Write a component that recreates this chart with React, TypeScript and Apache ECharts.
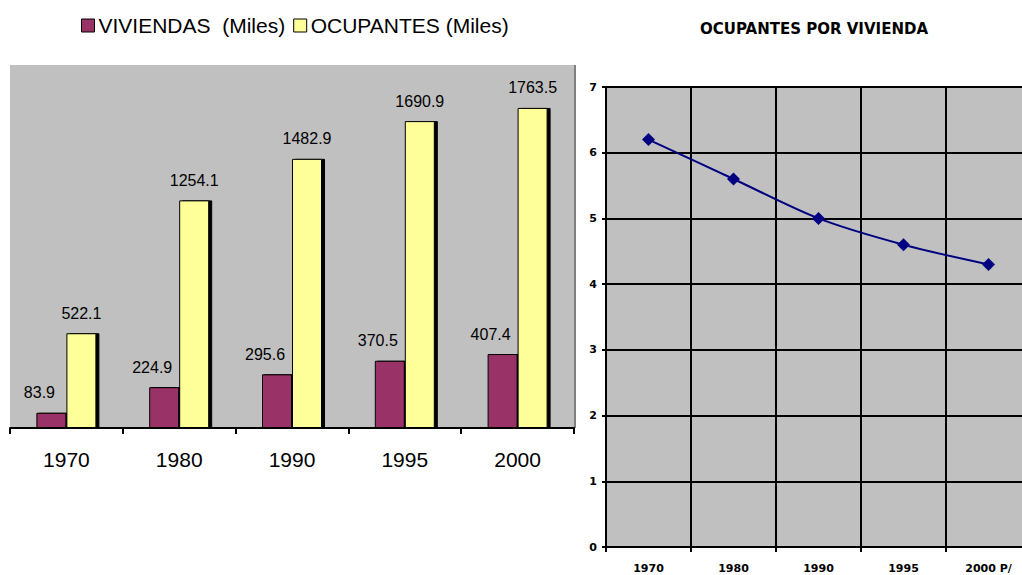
import React, { useEffect, useRef } from "react";
import * as echarts from "echarts";

const years = ["1970", "1980", "1990", "1995", "2000"];
const yearsRight = ["1970", "1980", "1990", "1995", "2000 P/"];
const viviendas = [83.9, 224.9, 295.6, 370.5, 407.4];
const ocupantes = [522.1, 1254.1, 1482.9, 1690.9, 1763.5];
const ocupantesPorVivienda = [6.2, 5.6, 5.0, 4.6, 4.3];

export default function App() {
  const ref = useRef<HTMLDivElement>(null);
  useEffect(() => {
    if (!ref.current) return;
    const chart = echarts.init(ref.current, null, { renderer: "svg" });
    const font = "Liberation Sans, Arial, sans-serif";
    const pix = "DejaVu Sans, sans-serif";
    chart.setOption({
      animation: false,
      backgroundColor: "#ffffff",
      textStyle: { fontFamily: font, color: "#000" },
      title: {
        text: "OCUPANTES POR VIVIENDA",
        left: 809,
        top: 16,
        textAlign: "center",
        textStyle: { fontSize: 15, fontWeight: "bold", color: "#000", fontFamily: pix },
      },
      legend: {
        left: 76,
        top: 10,
        icon: "rect",
        itemWidth: 13,
        itemHeight: 13,
        itemGap: 8,
        data: ["VIVIENDAS  (Miles)", "OCUPANTES (Miles)"],
        textStyle: { fontSize: 21, color: "#000", fontFamily: font, padding: [0, 0, 0, -1] },
        itemStyle: { borderColor: "#000", borderWidth: 1 },
      },
      graphic: [
        {
          type: "line",
          shape: { x1: 575, y1: 65, x2: 575, y2: 428 },
          style: { stroke: "#808080", lineWidth: 2 },
        },
      ],
      grid: [
        {
          left: 10,
          top: 65,
          width: 564,
          height: 363,
          show: true,
          backgroundColor: "#C0C0C0",
          borderColor: "#C0C0C0",
          borderWidth: 0,
        },
        {
          left: 606,
          top: 87,
          width: 425,
          height: 460,
          show: true,
          backgroundColor: "#C0C0C0",
          borderWidth: 0,
        },
      ],
      xAxis: [
        {
          type: "category",
          gridIndex: 0,
          data: years,
          axisLine: { lineStyle: { color: "#000", width: 2 } },
          axisTick: { show: true, length: 6, lineStyle: { color: "#000", width: 2 } },
          axisLabel: { fontSize: 21, color: "#000", margin: 21, fontFamily: font },
        },
        {
          type: "category",
          gridIndex: 1,
          data: yearsRight,
          axisLine: { lineStyle: { color: "#000", width: 2 } },
          axisTick: { show: true, length: 5, lineStyle: { color: "#000", width: 2 } },
          axisLabel: { fontSize: 11, fontWeight: "bold", color: "#000", margin: 16, fontFamily: pix },
          splitLine: { show: true, lineStyle: { color: "#000", width: 2 } },
        },
      ],
      yAxis: [
        {
          type: "value",
          gridIndex: 0,
          min: 0,
          max: 2000,
          show: false,
          splitLine: { show: false },
        },
        {
          type: "value",
          gridIndex: 1,
          min: 0,
          max: 7,
          interval: 1,
          axisLine: { show: true, lineStyle: { color: "#000", width: 2 } },
          axisTick: { show: true, length: 4, lineStyle: { color: "#000", width: 2 } },
          axisLabel: { fontSize: 11, fontWeight: "bold", color: "#000", margin: 9, fontFamily: pix },
          splitLine: { show: true, lineStyle: { color: "#000", width: 2 } },
        },
      ],
      series: [
        {
          name: "VIVIENDAS  (Miles)",
          type: "bar",
          xAxisIndex: 0,
          yAxisIndex: 0,
          data: viviendas,
          barWidth: 30,
          barGap: "0%",
          itemStyle: {
            color: "#993366",
            borderColor: "#000",
            borderWidth: 1,
            shadowColor: "#000",
            shadowOffsetX: 2,
            shadowBlur: 0,
          },
          label: {
            show: true,
            position: "top",
            distance: 12,
            offset: [-12, 0],
            fontSize: 16,
            color: "#000",
            fontFamily: font,
            formatter: (p: any) => p.value.toFixed(1),
          },
        },
        {
          name: "OCUPANTES (Miles)",
          type: "bar",
          xAxisIndex: 0,
          yAxisIndex: 0,
          data: ocupantes,
          barWidth: 30,
          barGap: "0%",
          itemStyle: {
            color: "#FFFF99",
            borderColor: "#000",
            borderWidth: 1,
            shadowColor: "#000",
            shadowOffsetX: 3,
            shadowBlur: 0,
          },
          label: {
            show: true,
            position: "top",
            distance: 12,
            fontSize: 16,
            color: "#000",
            fontFamily: font,
            formatter: (p: any) => p.value.toFixed(1),
          },
        },
        {
          name: "Ocupantes por vivienda",
          type: "line",
          xAxisIndex: 1,
          yAxisIndex: 1,
          data: ocupantesPorVivienda,
          smooth: 0.3,
          symbol: "diamond",
          symbolSize: 13,
          lineStyle: { color: "#000080", width: 2 },
          itemStyle: { color: "#000080" },
        },
      ],
    });
    return () => chart.dispose();
  }, []);
  return (
    <div
      ref={ref}
      style={{ position: "fixed", left: 0, top: 0, width: 1040, height: 575 }}
    />
  );
}
